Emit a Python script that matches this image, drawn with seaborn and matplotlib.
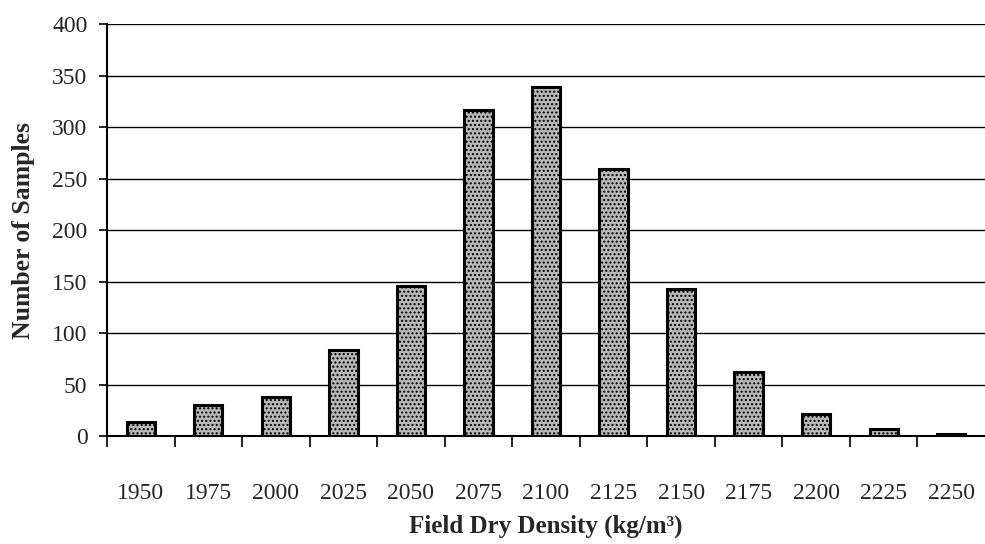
import numpy as np
import pandas as pd
import seaborn as sns
import matplotlib.pyplot as plt

densities = ["1950", "1975", "2000", "2025", "2050", "2075", "2100",
             "2125", "2150", "2175", "2200", "2225", "2250"]
counts = [14, 30, 38, 84, 146, 317, 339, 259, 143, 62, 21, 7, 2]
y_ticks = list(range(0, 401, 50))

sns.set_style("white")
plt.rcParams['font.family'] = ['Liberation Serif', 'DejaVu Serif']
plt.rcParams['hatch.color'] = '#7a7a7a'
plt.rcParams['hatch.linewidth'] = 1.0

df = pd.DataFrame({"density": densities, "count": counts})

fig = plt.figure(figsize=(9.85, 5.44), dpi=100)
ax = fig.add_axes([0.1086, 0.1985, 0.8914, 0.757])

sns.barplot(data=df, x="density", y="count", ax=ax, color="#b8b8b8",
            edgecolor="black", linewidth=2.2, width=0.42, saturation=1)
for p in ax.patches:
    p.set_hatch("....")
    p.set_zorder(3)

ax.set_ylim(0, 400)
ax.set_xlim(-0.5, len(densities) - 0.5)
ax.set_yticks(y_ticks)
ax.yaxis.grid(True, color="black", linewidth=1.0)
ax.set_axisbelow(True)

# labels centred under bars, tick marks at the bin edges
ax.set_xticks(np.arange(len(densities)))
ax.set_xticklabels(densities)
ax.set_xticks(np.arange(len(densities)) - 0.5, minor=True)
ax.tick_params(axis="x", which="major", bottom=True, length=0, pad=34, labelsize=17)
ax.tick_params(axis="x", which="minor", bottom=True, length=8, width=1.2, direction="out", color="black")
ax.tick_params(axis="y", left=True, length=6, width=1.2, direction="out", color="black", labelsize=17, pad=8)

for s in ["top", "right"]:
    ax.spines[s].set_visible(False)
for s in ["left", "bottom"]:
    ax.spines[s].set_color("black")
    ax.spines[s].set_linewidth(1.5)

ax.set_xlabel("Field Dry Density (kg/m\u00b3)", fontsize=18, fontweight="bold", va="center")
ax.xaxis.set_label_coords(0.5, -0.22)
ax.set_ylabel("Number of Samples", fontsize=18.5, fontweight="bold", labelpad=12)

fig.savefig("out.png", dpi=100)
